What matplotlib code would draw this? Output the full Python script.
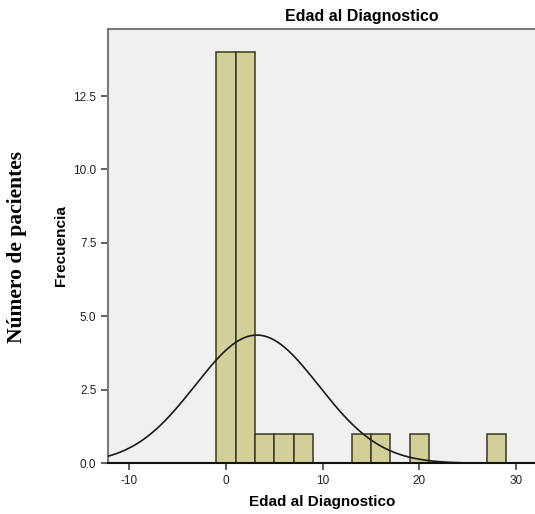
import matplotlib.pyplot as plt
import numpy as np

plt.rcParams['axes.unicode_minus'] = False

# histogram data (bins of width 2)
bin_left = [-1, 1, 3, 5, 7, 13, 15, 19, 27]
counts = [14, 14, 1, 1, 1, 1, 1, 1, 1]
bin_width = 2

# fitted normal curve parameters
curve_mean = 3.2
curve_std = 6.4
n_total = 35

yticks = [0.0, 2.5, 5.0, 7.5, 10.0, 12.5]
xticks = [-10, 0, 10, 20, 30]

fig = plt.figure(figsize=(5.35, 5.14), dpi=100)
ax = fig.add_axes([0.2024, 0.0986, 0.816, 0.8444])
ax.set_facecolor('#F0F0F0')

ax.bar(bin_left, counts, width=bin_width, align='edge',
       color='#D3CF99', edgecolor='#3A3826', linewidth=1.1, zorder=2)

xs = np.linspace(-13, 33, 400)
amp = n_total * bin_width / (curve_std * np.sqrt(2 * np.pi))
ax.plot(xs, amp * np.exp(-0.5 * ((xs - curve_mean) / curve_std) ** 2),
        color='#1a1a1a', linewidth=1.2, zorder=3)

ax.set_xlim(-12.17, 32.99)
ax.set_ylim(0, 14.77)
ax.set_xticks(xticks)
ax.set_yticks(yticks)
ax.set_yticklabels([f'{v:.1f}' for v in yticks])
ax.tick_params(axis='both', direction='out', length=5, width=1.2,
               color='#444444', labelsize=8.5, labelcolor='#222222',
               labelfontfamily='Liberation Sans')

for s in ['left', 'top', 'right']:
    ax.spines[s].set_color('#7a7a7a')
    ax.spines[s].set_linewidth(1.5)
ax.spines['bottom'].set_color('#111111')
ax.spines['bottom'].set_linewidth(1.5)
ax.spines['bottom'].set_zorder(4)

fig.text(362 / 535, 1 - 16 / 514, 'Edad al Diagnostico', ha='center', va='center',
         fontsize=11.5, fontweight='bold', family=['Liberation Sans'])
fig.text(322 / 535, 1 - 502 / 514, 'Edad al Diagnostico', ha='center', va='center',
         fontsize=11, fontweight='bold', family=['Liberation Sans'])
fig.text(61 / 535, 1 - 246 / 514, 'Frecuencia', ha='center', va='center',
         rotation=90, fontsize=11, fontweight='bold', family=['Liberation Sans'])
fig.text(17 / 535, 1 - 247 / 514, 'Número de pacientes', ha='center', va='center',
         rotation=90, fontsize=15.5, fontweight='bold', family=['Liberation Serif'])

fig.savefig('out.png', dpi=100)
